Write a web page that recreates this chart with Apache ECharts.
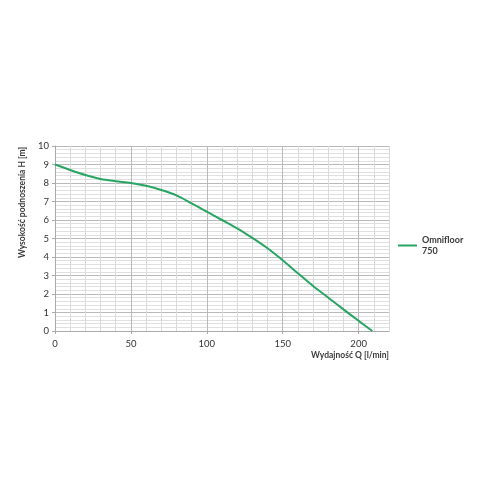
<!DOCTYPE html>
<html><head><meta charset="utf-8">
<script src="https://cdn.jsdelivr.net/npm/echarts@6/dist/echarts.min.js"></script>
<style>html,body{margin:0;padding:0;background:#fff}#c{width:500px;height:500px}</style>
</head><body><div id="c"></div>
<script>
const seriesName = 'Omnifloor\n750';
const flow = [0,10,20,30,40,50,60,70,80,90,100,110,120,130,140,150,160,170,180,190,200,209];
const head = [9.0,8.7,8.43,8.22,8.1,8.0,7.85,7.62,7.33,6.9,6.45,6.0,5.55,5.03,4.47,3.82,3.12,2.43,1.8,1.17,0.55,0];
const xTitle = 'Wydajność Q [l/min]';
const yTitle = 'Wysokość podnoszenia H [m]';

const FONT = 'Lato';
const chart = echarts.init(document.getElementById('c'));
chart.setOption({
  animation: false,
  textStyle: {fontFamily: FONT},
  grid: {left: 55, right: 111, top: 146, bottom: 169},
  legend: {
    data: [seriesName], orient: 'vertical', left: 393, top: 224,
    icon: 'rect', itemWidth: 19, itemHeight: 2, itemGap: 0,
    textStyle: {fontFamily: FONT, fontSize: 9, fontWeight: 'bold', color: '#3a3a3a', lineHeight: 11, padding: [11,0,0,0]}
  },
  xAxis: [{
    type: 'value', min: 0, max: 220, interval: 50,
    name: xTitle, nameLocation: 'end', nameGap: 0,
    nameTextStyle: {fontFamily: FONT, fontSize: 8.5, fontWeight: 'bold', color: '#3a3a3a', align: 'right', verticalAlign: 'top', padding: [20,0,0,0]},
    axisLine: {show: true, lineStyle: {color: '#aaa', width: 1}},
    axisTick: {show: true, length: 3, lineStyle: {color: '#aaa'}},
    axisLabel: {fontSize: 9.5, color: '#333', margin: 8, showMaxLabel: false},
    splitLine: {show: false}
  }, {
    type: 'value', min: 0, max: 220, interval: 10, position: 'bottom',
    axisLine: {show: false}, axisTick: {show: false}, axisLabel: {show: false},
    splitLine: {show: true, lineStyle: {width: 1, color: ['#b9b9b9','#dadada','#dadada','#dadada','#dadada']}}
  }],
  yAxis: [{
    type: 'value', min: 0, max: 10, interval: 1,
    name: yTitle, nameLocation: 'middle', nameGap: 28, nameRotate: 90,
    nameTextStyle: {fontFamily: FONT, fontSize: 8.5, fontWeight: 'bold', color: '#3a3a3a', padding: [0,0,0,72]},
    axisLine: {show: true, lineStyle: {color: '#aaa', width: 1}},
    axisTick: {show: true, length: 3, lineStyle: {color: '#aaa'}},
    axisLabel: {fontSize: 9.5, color: '#333', margin: 6},
    splitLine: {show: false}
  }, {
    type: 'value', min: 0, max: 10, interval: 0.2, position: 'left',
    axisLine: {show: false}, axisTick: {show: false}, axisLabel: {show: false},
    splitLine: {show: true, lineStyle: {width: 1, color: ['#b9b9b9','#e0e0e0','#e0e0e0','#e0e0e0','#e0e0e0']}}
  }],
  series: [{
    name: seriesName, type: 'line', xAxisIndex: 0, yAxisIndex: 0,
    data: flow.map((q, i) => [q, head[i]]),
    smooth: 0.3, showSymbol: false, symbol: 'none',
    lineStyle: {color: '#28a563', width: 2},
    itemStyle: {color: '#28a563'}
  }]
});
</script></body></html>
